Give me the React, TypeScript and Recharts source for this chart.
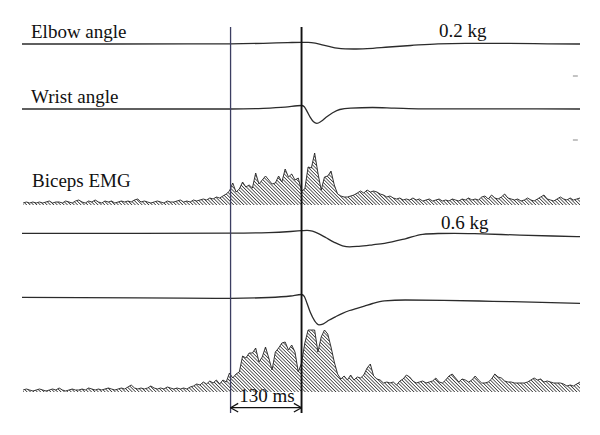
import React from 'react';
import { ComposedChart, Line, Area, XAxis, YAxis, ReferenceLine } from 'recharts';

// ---- time axis (ms, 0 = second cursor) ----
const T_MIN = -512;
const T_MAX = 510;
const LATENCY_MS = 130;

// ---- 0.2 kg ----
const elbow02Ms = [-512, -350, -200, -130, -70, -25, 0, 12, 25, 40, 52, 65, 80, 95, 120, 160, 200, 250, 300, 380, 450, 510];
const elbow02Deg = [0, 0, 0.1, 0.2, 0.7, 1.4, 1.7, 1.6, 0.8, -1.2, -2.7, -4.2, -4.9, -5, -4.6, -3, -1.5, 0.2, 0.7, 0.6, 0.2, 0];

const wrist02Ms = [-512, -300, -130, -70, -30, 0, 5, 10, 16, 22, 28, 36, 45, 57, 70, 90, 130, 170, 220, 350, 510];
const wrist02Deg = [0.3, 0.3, 0.3, 1, 2.2, 3.8, 2.5, -2, -8, -12.5, -14, -12, -8, -3.5, -0.2, 1.2, 1.8, 1.2, 0.5, 0.4, 0.3];

// ---- 0.6 kg ----
const elbow06Ms = [-512, -300, -130, -60, -20, 0, 10, 20, 32, 45, 60, 75, 88, 105, 130, 152, 190, 222, 250, 280, 330, 400, 460, 510];
const elbow06Deg = [0, 0, 0.1, 0.7, 1.8, 2.6, 3, 2.2, -0.5, -4.5, -9, -12.5, -13.6, -13, -11.5, -10, -5.5, -1, -0.2, 0, -0.6, -1.8, -2.7, -3.3];

const wrist06Ms = [-512, -300, -130, -60, -20, 0, 5, 10, 16, 24, 32, 40, 50, 62, 75, 88, 100, 115, 130, 152, 190, 260, 350, 440, 510];
const wrist06Deg = [1, 0.5, 0, 0.8, 2.3, 3.8, 2, -5, -14, -22.5, -26.5, -25.5, -22, -18.5, -15, -12.2, -10.3, -7.8, -5.2, -2.6, -1.7, -2, -3, -4, -5];

// ---- rectified biceps EMG, sampled every 6 ms from -510 ms ----
const emgStartMs = -510;
const emgStepMs = 6;
const bicepsEmg02 = [
  2, 3, 2, 3, 2, 3, 2, 3, 4, 2,
  3, 3, 2, 4, 3, 2, 4, 5, 3, 2,
  4, 3, 5, 3, 2, 4, 3, 4, 2, 3,
  4, 3, 4, 3, 5, 6, 3, 4, 3, 2,
  3, 4, 3, 2, 4, 3, 3, 4, 5, 3,
  4, 3, 5, 4, 5, 6, 5, 7, 6, 8,
  7, 9, 11, 14, 22, 13, 16, 23, 18, 20,
  17, 32, 21, 25, 29, 25, 21, 22, 29, 23,
  36, 28, 31, 25, 27, 14, 16, 38, 37, 52,
  32, 15, 28, 29, 34, 20, 11, 9, 8, 8,
  9, 10, 12, 14, 12, 15, 13, 14, 13, 11,
  10, 8, 9, 7, 6, 7, 5, 6, 5, 7,
  5, 6, 4, 5, 6, 4, 5, 6, 4, 5,
  4, 6, 5, 4, 6, 5, 7, 5, 6, 5,
  8, 9, 6, 10, 7, 6, 8, 11, 7, 6,
  5, 6, 4, 5, 7, 5, 4, 6, 8, 10,
  6, 5, 4, 6, 8, 6, 5, 7, 5, 6, 7,
];
const bicepsEmg06 = [
  2, 3, 2, 1, 2, 3, 2, 1, 2, 3,
  2, 4, 2, 1, 2, 3, 2, 2, 3, 2,
  4, 3, 2, 3, 2, 3, 4, 3, 2, 3,
  4, 3, 5, 7, 4, 3, 4, 3, 4, 6,
  4, 3, 4, 3, 5, 4, 3, 4, 3, 4,
  3, 5, 6, 8, 7, 10, 8, 11, 9, 12,
  8, 12, 10, 19, 14, 18, 20, 36, 34, 39,
  39, 44, 30, 35, 45, 34, 22, 40, 44, 49,
  50, 42, 47, 40, 20, 29, 49, 62, 62, 62,
  40, 55, 62, 58, 45, 30, 18, 13, 16, 12,
  17, 12, 15, 14, 17, 24, 28, 16, 13, 12,
  9, 10, 9, 10, 7, 11, 13, 17, 15, 11,
  9, 10, 11, 9, 10, 11, 14, 10, 9, 12,
  16, 18, 14, 10, 13, 12, 10, 12, 16, 12,
  9, 9, 10, 13, 18, 15, 14, 11, 10, 10,
  9, 9, 9, 9, 10, 12, 14, 12, 13, 10,
  11, 10, 9, 9, 9, 8, 6, 7, 6, 8, 10,
];

const zip = (ts: number[], vs: number[]) => ts.map((t, i) => ({ t, v: vs[i] }));
const emgRows = (vs: number[]) => vs.map((v, i) => ({ t: emgStartMs + i * emgStepMs, v }));

const elbow02 = zip(elbow02Ms, elbow02Deg);
const wrist02 = zip(wrist02Ms, wrist02Deg);
const elbow06 = zip(elbow06Ms, elbow06Deg);
const wrist06 = zip(wrist06Ms, wrist06Deg);
const emg02 = emgRows(bicepsEmg02);
const emg06 = emgRows(bicepsEmg06);

// ---- layout ----
const W = 600;
const H = 435;
const M = { top: 27, right: 20, bottom: 22, left: 22 };
const PLOT_H = H - M.top - M.bottom;
// domain that puts value 0 at page-y `base`, 1 px per unit
const band = (base: number): [number, number] => {
  const p = base - M.top;
  return [p - PLOT_H, p];
};

const traceColor = '#2b2b2b';
const font = { fontFamily: '"Liberation Serif", "Times New Roman", serif', fontSize: 19, fill: '#111' };

export default function App() {
  const arrowY = -15.7; // in EMG 0.6 axis units
  const head = 14;
  const hh = 4.3;
  return (
    <div style={{ position: 'absolute', left: 0, top: 0, width: W, height: H, background: '#fff' }}>
      <ComposedChart width={W} height={H} margin={M}>
        <defs>
          <pattern id="hatch" patternUnits="userSpaceOnUse" width="2.4" height="2.4" patternTransform="rotate(-45)">
            <line x1="1.2" y1="0" x2="1.2" y2="2.4" stroke="#333" strokeWidth="0.75" />
          </pattern>
        </defs>
        <XAxis type="number" dataKey="t" domain={[T_MIN, T_MAX]} allowDataOverflow hide />
        <YAxis yAxisId="e02" type="number" domain={band(44)} allowDataOverflow hide />
        <YAxis yAxisId="w02" type="number" domain={band(109.3)} allowDataOverflow hide />
        <YAxis yAxisId="m02" type="number" domain={band(205)} allowDataOverflow hide />
        <YAxis yAxisId="e06" type="number" domain={band(233.3)} allowDataOverflow hide />
        <YAxis yAxisId="w06" type="number" domain={band(298.3)} allowDataOverflow hide />
        <YAxis yAxisId="m06" type="number" domain={band(392)} allowDataOverflow hide />

        <Area yAxisId="m02" data={emg02} dataKey="v" type="linear" stroke="#222" strokeWidth={0.9} fill="url(#hatch)" fillOpacity={1} isAnimationActive={false} dot={false} activeDot={false} />
        <Area yAxisId="m06" data={emg06} dataKey="v" type="linear" stroke="#222" strokeWidth={0.9} fill="url(#hatch)" fillOpacity={1} isAnimationActive={false} dot={false} activeDot={false} />
        <Line yAxisId="e02" data={elbow02} dataKey="v" type="monotone" stroke={traceColor} strokeWidth={1.3} dot={false} activeDot={false} isAnimationActive={false} />
        <Line yAxisId="w02" data={wrist02} dataKey="v" type="monotone" stroke={traceColor} strokeWidth={1.3} dot={false} activeDot={false} isAnimationActive={false} />
        <Line yAxisId="e06" data={elbow06} dataKey="v" type="monotone" stroke={traceColor} strokeWidth={1.3} dot={false} activeDot={false} isAnimationActive={false} />
        <Line yAxisId="w06" data={wrist06} dataKey="v" type="monotone" stroke={traceColor} strokeWidth={1.3} dot={false} activeDot={false} isAnimationActive={false} />

        <ReferenceLine yAxisId="m06" x={-LATENCY_MS} stroke="#3c3e62" strokeWidth={1.3} />
        <ReferenceLine yAxisId="m06" x={0} stroke="#111" strokeWidth={1.9} />

        <ReferenceLine yAxisId="m06" segment={[{ x: -LATENCY_MS, y: arrowY }, { x: 0, y: arrowY }]} stroke="#111" strokeWidth={1.3} ifOverflow="visible" />
        <ReferenceLine yAxisId="m06" segment={[{ x: -LATENCY_MS, y: arrowY }, { x: -LATENCY_MS + head, y: arrowY + hh }]} stroke="#111" strokeWidth={1.3} ifOverflow="visible" />
        <ReferenceLine yAxisId="m06" segment={[{ x: -LATENCY_MS, y: arrowY }, { x: -LATENCY_MS + head, y: arrowY - hh }]} stroke="#111" strokeWidth={1.3} ifOverflow="visible" />
        <ReferenceLine yAxisId="m06" segment={[{ x: 0, y: arrowY }, { x: -head, y: arrowY + hh }]} stroke="#111" strokeWidth={1.3} ifOverflow="visible" />
        <ReferenceLine yAxisId="m06" segment={[{ x: 0, y: arrowY }, { x: -head, y: arrowY - hh }]} stroke="#111" strokeWidth={1.3} ifOverflow="visible" />

        <ReferenceLine yAxisId="w02" segment={[{ x: 497, y: 33.3 }, { x: 506, y: 33.3 }]} stroke="#888" strokeWidth={1} ifOverflow="visible" />
        <ReferenceLine yAxisId="w02" segment={[{ x: 497, y: -30.7 }, { x: 506, y: -30.7 }]} stroke="#888" strokeWidth={1} ifOverflow="visible" />

        <text x={31} y={37.5} {...font}>Elbow angle</text>
        <text x={31} y={102.5} {...font}>Wrist angle</text>
        <text x={32} y={187} {...font}>Biceps EMG</text>
        <text x={439} y={37} {...font}>0.2 kg</text>
        <text x={441} y={228.5} {...font}>0.6 kg</text>
        <text x={267} y={401.5} textAnchor="middle" {...font}>130 ms</text>
      </ComposedChart>
    </div>
  );
}
